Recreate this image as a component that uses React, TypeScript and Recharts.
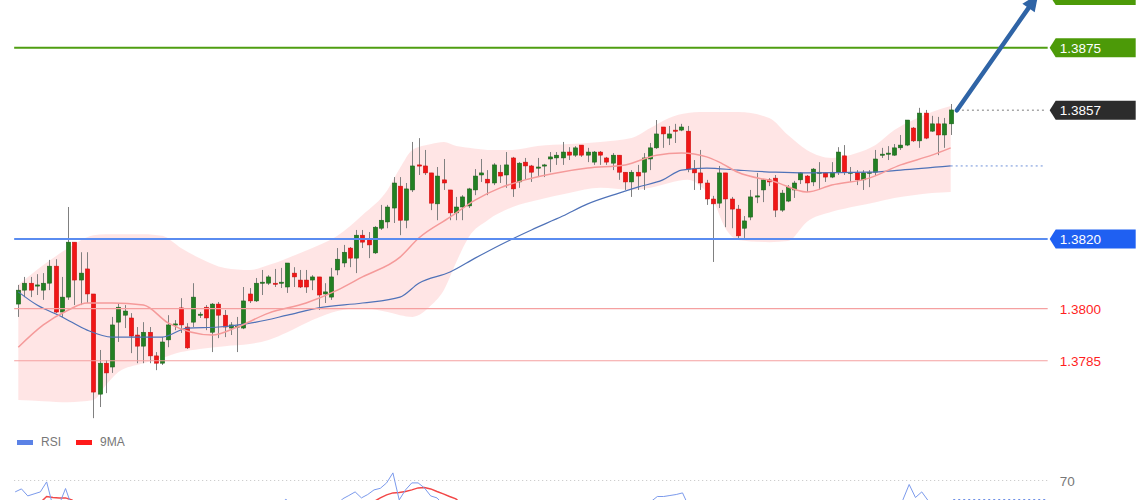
import React from 'react';
import { ComposedChart, Bar, Line, Area, XAxis, YAxis, ReferenceLine } from 'recharts';

const FONT = '"Liberation Sans", Arial, Helvetica, sans-serif';

// candles, oldest first
const opens = [
  1.38013, 1.38053, 1.38073, 1.38065, 1.38053, 1.38073, 1.38122, 1.37990, 1.38033, 1.38191,
  1.38082, 1.38114, 1.38042, 1.37754, 1.37843, 1.37832, 1.37961, 1.37981, 1.37973, 1.37924,
  1.37892, 1.37932, 1.37864, 1.37843, 1.37910, 1.37953, 1.38002, 1.37947, 1.37961, 1.37981,
  1.38004, 1.37932, 1.38013, 1.37981, 1.37944, 1.37947, 1.37944, 1.38042, 1.38022, 1.38073,
  1.38073, 1.38073, 1.38073, 1.38062, 1.38102, 1.38082, 1.38082, 1.38082, 1.38091, 1.38042,
  1.38033, 1.38111, 1.38131, 1.38174, 1.38145, 1.38211, 1.38200, 1.38160, 1.38231, 1.38249,
  1.38289, 1.38352, 1.38254, 1.38341, 1.38413, 1.38410, 1.38390, 1.38301, 1.38370, 1.38341,
  1.38275, 1.38292, 1.38295, 1.38341, 1.38384, 1.38372, 1.38361, 1.38392, 1.38384, 1.38433,
  1.38364, 1.38421, 1.38410, 1.38404, 1.38410, 1.38430, 1.38433, 1.38433, 1.38450, 1.38441,
  1.38470, 1.38441, 1.38421, 1.38450, 1.38433, 1.38418, 1.38441, 1.38392, 1.38364, 1.38392,
  1.38392, 1.38430, 1.38462, 1.38522, 1.38490, 1.38513, 1.38513, 1.38510, 1.38401, 1.38390,
  1.38361, 1.38315, 1.38303, 1.38390, 1.38315, 1.38286, 1.38231, 1.38263, 1.38321, 1.38341,
  1.38370, 1.38375, 1.38283, 1.38309, 1.38341, 1.38370, 1.38381, 1.38364, 1.38390, 1.38390,
  1.38378, 1.38392, 1.38439, 1.38390, 1.38390, 1.38370, 1.38390, 1.38392, 1.38441, 1.38444,
  1.38441, 1.38462, 1.38470, 1.38519, 1.38482, 1.38562, 1.38510, 1.38531, 1.38499, 1.38531,
];
const highs = [
  1.38068, 1.38091, 1.38091, 1.38099, 1.38102, 1.38140, 1.38142, 1.38091, 1.38292, 1.38191,
  1.38162, 1.38162, 1.38042, 1.37881, 1.37852, 1.37976, 1.38016, 1.38010, 1.37987, 1.37947,
  1.37961, 1.37947, 1.37875, 1.37918, 1.37981, 1.37967, 1.38030, 1.37958, 1.38073, 1.37990,
  1.38010, 1.38016, 1.38019, 1.37996, 1.37961, 1.37976, 1.38062, 1.38059, 1.38088, 1.38111,
  1.38096, 1.38114, 1.38117, 1.38131, 1.38119, 1.38111, 1.38111, 1.38096, 1.38091, 1.38073,
  1.38117, 1.38174, 1.38183, 1.38177, 1.38226, 1.38226, 1.38220, 1.38237, 1.38298, 1.38298,
  1.38378, 1.38378, 1.38361, 1.38479, 1.38490, 1.38456, 1.38390, 1.38407, 1.38430, 1.38341,
  1.38321, 1.38326, 1.38347, 1.38401, 1.38430, 1.38398, 1.38418, 1.38413, 1.38450, 1.38436,
  1.38421, 1.38433, 1.38413, 1.38433, 1.38416, 1.38450, 1.38450, 1.38479, 1.38464, 1.38467,
  1.38470, 1.38462, 1.38453, 1.38453, 1.38436, 1.38447, 1.38441, 1.38392, 1.38398, 1.38413,
  1.38447, 1.38476, 1.38542, 1.38522, 1.38525, 1.38531, 1.38531, 1.38525, 1.38427, 1.38456,
  1.38370, 1.38324, 1.38410, 1.38390, 1.38321, 1.38298, 1.38266, 1.38341, 1.38390, 1.38372,
  1.38375, 1.38384, 1.38341, 1.38355, 1.38367, 1.38392, 1.38384, 1.38404, 1.38421, 1.38392,
  1.38421, 1.38464, 1.38470, 1.38407, 1.38398, 1.38398, 1.38398, 1.38456, 1.38462, 1.38467,
  1.38473, 1.38499, 1.38542, 1.38522, 1.38577, 1.38571, 1.38554, 1.38551, 1.38548, 1.38588,
];
const lows = [
  1.37976, 1.38033, 1.38033, 1.38039, 1.38025, 1.38053, 1.37987, 1.37976, 1.38025, 1.38010,
  1.38010, 1.38016, 1.37685, 1.37717, 1.37757, 1.37815, 1.37904, 1.37944, 1.37872, 1.37843,
  1.37843, 1.37843, 1.37823, 1.37838, 1.37889, 1.37938, 1.37930, 1.37884, 1.37947, 1.37973,
  1.37938, 1.37875, 1.37915, 1.37918, 1.37924, 1.37875, 1.37941, 1.38016, 1.38019, 1.38039,
  1.38068, 1.38062, 1.38059, 1.38045, 1.38062, 1.38059, 1.38045, 1.38053, 1.37996, 1.38016,
  1.38025, 1.38096, 1.38119, 1.38119, 1.38102, 1.38174, 1.38145, 1.38157, 1.38226, 1.38231,
  1.38246, 1.38211, 1.38231, 1.38335, 1.38384, 1.38384, 1.38283, 1.38254, 1.38341, 1.38254,
  1.38254, 1.38254, 1.38289, 1.38326, 1.38364, 1.38326, 1.38355, 1.38361, 1.38347, 1.38321,
  1.38347, 1.38370, 1.38364, 1.38378, 1.38378, 1.38392, 1.38413, 1.38413, 1.38427, 1.38436,
  1.38436, 1.38421, 1.38413, 1.38413, 1.38413, 1.38398, 1.38370, 1.38341, 1.38321, 1.38341,
  1.38341, 1.38398, 1.38459, 1.38462, 1.38470, 1.38476, 1.38510, 1.38392, 1.38341, 1.38341,
  1.38298, 1.38134, 1.38289, 1.38234, 1.38231, 1.38203, 1.38203, 1.38254, 1.38303, 1.38306,
  1.38352, 1.38263, 1.38278, 1.38306, 1.38318, 1.38358, 1.38335, 1.38352, 1.38341, 1.38364,
  1.38375, 1.38384, 1.38384, 1.38364, 1.38355, 1.38341, 1.38349, 1.38381, 1.38433, 1.38427,
  1.38439, 1.38456, 1.38467, 1.38479, 1.38462, 1.38487, 1.38508, 1.38441, 1.38462, 1.38499,
];
const closes = [
  1.38053, 1.38073, 1.38053, 1.38068, 1.38073, 1.38122, 1.37990, 1.38033, 1.38191, 1.38082,
  1.38102, 1.38042, 1.37760, 1.37843, 1.37815, 1.37953, 1.38004, 1.37993, 1.37921, 1.37892,
  1.37932, 1.37864, 1.37843, 1.37904, 1.37953, 1.37956, 1.37953, 1.37887, 1.38033, 1.37984,
  1.37973, 1.38013, 1.37981, 1.37947, 1.37953, 1.37950, 1.38022, 1.38022, 1.38073, 1.38076,
  1.38091, 1.38070, 1.38076, 1.38131, 1.38091, 1.38062, 1.38062, 1.38091, 1.38039, 1.38048,
  1.38091, 1.38142, 1.38162, 1.38145, 1.38211, 1.38191, 1.38183, 1.38234, 1.38254, 1.38292,
  1.38361, 1.38254, 1.38344, 1.38410, 1.38410, 1.38390, 1.38303, 1.38381, 1.38361, 1.38275,
  1.38292, 1.38321, 1.38344, 1.38381, 1.38390, 1.38361, 1.38413, 1.38381, 1.38413, 1.38344,
  1.38418, 1.38410, 1.38392, 1.38407, 1.38413, 1.38436, 1.38441, 1.38450, 1.38441, 1.38462,
  1.38441, 1.38450, 1.38450, 1.38441, 1.38421, 1.38441, 1.38392, 1.38364, 1.38392, 1.38381,
  1.38433, 1.38462, 1.38502, 1.38502, 1.38502, 1.38510, 1.38522, 1.38401, 1.38390, 1.38361,
  1.38315, 1.38301, 1.38390, 1.38315, 1.38286, 1.38209, 1.38252, 1.38321, 1.38324, 1.38370,
  1.38364, 1.38283, 1.38332, 1.38349, 1.38361, 1.38390, 1.38361, 1.38401, 1.38392, 1.38378,
  1.38392, 1.38450, 1.38392, 1.38392, 1.38370, 1.38390, 1.38392, 1.38430, 1.38444, 1.38447,
  1.38462, 1.38470, 1.38542, 1.38482, 1.38562, 1.38490, 1.38531, 1.38499, 1.38531, 1.38571,
];

// bollinger band, read at these candle positions
const bbIdx = [0, 4, 8, 12, 14, 16, 20, 23, 26, 29, 33, 37, 40, 43, 47, 51, 55, 59, 61, 63, 66, 68, 70, 72,
  75, 79, 83, 88, 93, 98, 101, 104, 107, 109, 111, 113, 115, 120, 123, 126, 130, 134, 137, 140, 143, 146, 149];
const bbUpper = [1.38068, 1.38125, 1.38174, 1.38211, 1.38214, 1.38214, 1.38214, 1.38209, 1.38174, 1.38145,
  1.38117, 1.38111, 1.38125, 1.38145, 1.38174, 1.38209, 1.38269, 1.38341, 1.38404, 1.38456, 1.38473, 1.38479,
  1.38467, 1.38462, 1.38456, 1.38456, 1.38467, 1.38473, 1.38479, 1.38490, 1.38519, 1.38548, 1.38562, 1.38565,
  1.38565, 1.38565, 1.38565, 1.38548, 1.38499, 1.38456, 1.38433, 1.38447, 1.38470, 1.38513, 1.38542, 1.38565, 1.38582];
const bbLower = [1.37737, 1.37734, 1.37731, 1.37737, 1.37780, 1.37818, 1.37843, 1.37858, 1.37875, 1.37884,
  1.37892, 1.37898, 1.37910, 1.37932, 1.37967, 1.37993, 1.38002, 1.37990, 1.37981, 1.37976, 1.38010, 1.38053,
  1.38134, 1.38206, 1.38254, 1.38292, 1.38312, 1.38332, 1.38347, 1.38341, 1.38347, 1.38361, 1.38370, 1.38352,
  1.38312, 1.38231, 1.38197, 1.38191, 1.38194, 1.38249, 1.38278, 1.38295, 1.38306, 1.38318, 1.38326, 1.38332, 1.38335];

// red (short) moving average
const midIdx = [0, 4, 8, 11, 15, 20, 24, 31, 35, 40, 46, 51, 55, 61, 64, 69, 73, 77, 81, 86, 91, 97, 102, 106,
  110, 112, 115, 121, 126, 130, 136, 141, 146, 149];
const midVal = [1.37889, 1.37953, 1.37996, 1.38016, 1.38016, 1.38010, 1.37958, 1.37924, 1.37947, 1.37987,
  1.38016, 1.38053, 1.38091, 1.38148, 1.38203, 1.38263, 1.38312, 1.38347, 1.38370, 1.38390, 1.38404, 1.38413,
  1.38441, 1.38447, 1.38436, 1.38421, 1.38392, 1.38364, 1.38335, 1.38355, 1.38375, 1.38413, 1.38441, 1.38462];

// blue (long) moving average
const maIdx = [0, 3, 7, 11, 15, 23, 27, 32, 38, 43, 48, 55, 61, 64, 69, 73, 77, 82, 87, 91, 96, 99, 103, 106,
  110, 115, 121, 126, 136, 141, 149];
const maVal = [1.38048, 1.38010, 1.37976, 1.37938, 1.37918, 1.37918, 1.37944, 1.37947, 1.37961, 1.37981,
  1.38002, 1.38016, 1.38033, 1.38073, 1.38105, 1.38145, 1.38183, 1.38226, 1.38266, 1.38301, 1.38332, 1.38349,
  1.38370, 1.38398, 1.38404, 1.38398, 1.38392, 1.38390, 1.38392, 1.38398, 1.38410];

// RSI panel, only the part above the bottom edge is visible
const rsiIdx = [0, 1, 2, 3, 4, 5, 6, 7, 8, 9, 42, 43, 44, 51, 52, 53, 54, 55, 56, 57, 58, 59, 60, 61, 62, 63, 64,
  65, 66, 67, 68, 100, 101, 102, 103, 104, 105, 106, 107, 140, 141, 142, 143, 144, 145, 146];
const rsiVal = [64.3, 65.8, 62.3, 63.3, 64.3, 69.3, 57, 58, 66, 57, 58, 60.6, 58, 57, 60.8, 62.5, 64.3, 61.3,
  63, 65.3, 66.1, 68.8, 73.8, 60.3, 65.3, 68.8, 68.8, 66.3, 62.3, 61.3, 58, 57, 59.5, 62, 62, 62.5, 63, 63.8, 57,
  57, 60.3, 68, 61.5, 64.3, 60, 56];
const rsiMaIdx = [3, 4, 5, 6, 7, 8, 9, 10, 56, 57, 58, 59, 60, 61, 62, 63, 64, 65, 66, 67, 68, 69, 70, 71];
const rsiMaVal = [58, 59, 62, 61.5, 61.3, 61.3, 60.3, 58, 58, 59.5, 61.3, 62.8, 63.8, 64, 64.5, 65.3, 66.3,
  66.5, 65.8, 64.5, 63.3, 62, 60.8, 58];

const levels = { top: 1.389, resistance: 1.3875, last: 1.3857, support: 1.382, s1: 1.38, s2: 1.3785 };
const maLast = 1.3841;
const rsiLast = 60.5;
const arrowFrom = { i: 150, p: 1.3857 };
const arrowTo = { i: 163, p: 1.38904 };

const SLOTS = 165; // candles + empty room on the right

const rows: any[] = Array.from({ length: SLOTS }, (_, i) => ({
  i,
  o: i < opens.length ? opens[i] : null,
  h: i < highs.length ? highs[i] : null,
  l: i < lows.length ? lows[i] : null,
  c: i < closes.length ? closes[i] : null,
  up: null, lo: null, mid: null, ma: null,
}));
bbIdx.forEach((k, j) => { rows[k].up = bbUpper[j]; rows[k].lo = bbLower[j]; });
midIdx.forEach((k, j) => { rows[k].mid = midVal[j]; });
maIdx.forEach((k, j) => { rows[k].ma = maVal[j]; });

const rsiRows: any[] = Array.from({ length: SLOTS }, (_, i) => ({ i, rsi: null, rsiMa: null }));
rsiIdx.forEach((k, j) => { rsiRows[k].rsi = rsiVal[j]; });
rsiMaIdx.forEach((k, j) => { rsiRows[k].rsiMa = rsiMaVal[j]; });

const MARGIN = { top: 0, right: 92.33, bottom: 0, left: 15.17 };

const Candle = (props: any) => {
  const { x, y, width, height, payload } = props;
  if (!payload || payload.h == null) return <g />;
  const { o, h, l, c } = payload;
  const yTop = Math.min(y, y + height);
  const yBot = Math.max(y, y + height);
  const span = h - l || 1e-9;
  const toY = (v: number) => yTop + ((h - v) / span) * (yBot - yTop);
  const cx = Math.round(x + width / 2) + 0.5;
  const up = c >= o;
  const t = toY(Math.max(o, c));
  const b = toY(Math.min(o, c));
  return (
    <g>
      <line x1={cx} x2={cx} y1={yTop} y2={yBot} stroke="#808080" strokeWidth={1} />
      <rect x={cx - 2.2} y={t} width={4.4} height={Math.max(b - t, 1.2)}
        fill={up ? '#238023' : '#f01616'} stroke={up ? '#1b5e1b' : '#c81010'} strokeWidth={0.5} />
    </g>
  );
};

const tagPath = (x: number, y: number) =>
  `M${x + 2},${y} L${x + 8},${y - 9.5} L${x + 88},${y - 9.5} L${x + 88},${y + 9.5} L${x + 8},${y + 9.5} Z`;

const tagLine = (color: string, w: number, label: string, tagColor: string) => (p: any) => (
  <g>
    <line x1={p.x1 - 1} y1={p.y1} x2={p.x2} y2={p.y2} stroke={color} strokeWidth={w} />
    <path d={tagPath(p.x2, p.y1)} fill={tagColor} />
    <text x={p.x2 + 12} y={p.y1 + 5} fill="#fff" fontSize={13.5} fontFamily={FONT}>{label}</text>
  </g>
);

// tag whose text sits above the top edge of the picture
const tagEdge = (color: string) => (p: any) => <path d={tagPath(p.x2, p.y1)} fill={color} />;

const tagOnly = (label: string, color: string) => (p: any) => (
  <g>
    <path d={tagPath(p.x2, p.y1)} fill={color} />
    <text x={p.x2 + 12} y={p.y1 + 5} fill="#fff" fontSize={13.5} fontFamily={FONT}>{label}</text>
  </g>
);

const textLine = (color: string, label: string, textColor: string, dash?: string) => (p: any) => (
  <g>
    <line x1={p.x1 - 1} y1={p.y1} x2={p.x2} y2={p.y2} stroke={color} strokeWidth={1.2} strokeDasharray={dash} />
    <text x={p.x2 + 12} y={p.y1 + 5} fill={textColor} fontSize={13.5} fontFamily={FONT}>{label}</text>
  </g>
);

const dotted = (color: string, w: number) => (p: any) => (
  <line x1={p.x1} y1={p.y1} x2={p.x2} y2={p.y2} stroke={color} strokeWidth={w} strokeDasharray="2 3" />
);

const Arrow = (p: any) => {
  const { x1, y1, x2, y2 } = p;
  const dx = x2 - x1;
  const dy = y2 - y1;
  const len = Math.hypot(dx, dy) || 1;
  const ux = dx / len;
  const uy = dy / len;
  const head = 17;
  const half = 7.5;
  const bx = x2 - ux * head;
  const by = y2 - uy * head;
  const nx = -uy;
  const ny = ux;
  return (
    <g>
      <line x1={x1} y1={y1} x2={bx + ux * 2} y2={by + uy * 2} stroke="#2f64a6" strokeWidth={4.5} strokeLinecap="round" />
      <polygon points={`${x2},${y2} ${bx + nx * half},${by + ny * half} ${bx - nx * half},${by - ny * half}`} fill="#2f64a6" />
    </g>
  );
};

const App: React.FC = () => {
  return (
    <div style={{ position: 'absolute', left: 0, top: 0, width: 1140, height: 500, background: '#fff', overflow: 'hidden', fontFamily: FONT }}>
      <div style={{ position: 'absolute', left: 0, top: 0 }}>
        <ComposedChart width={1140} height={430} data={rows} margin={MARGIN}>
          <XAxis dataKey="i" hide />
          <YAxis hide domain={[1.37651, 1.38887]} allowDataOverflow />
          <Area dataKey={(d: any) => (d.up == null ? null : [d.lo, d.up])} type="monotone" connectNulls
            stroke="none" fill="#ffb0b0" fillOpacity={0.33} isAnimationActive={false} activeDot={false} />
          <Line dataKey="ma" type="monotone" connectNulls stroke="#4f72b8" strokeWidth={1.2} dot={false}
            activeDot={false} isAnimationActive={false} />
          <Line dataKey="mid" type="monotone" connectNulls stroke="#f59a9a" strokeWidth={1.5} dot={false}
            activeDot={false} isAnimationActive={false} />
          <Bar dataKey={(d: any) => (d.h == null ? null : [d.l, d.h])} barSize={4} shape={Candle}
            isAnimationActive={false} />
          <ReferenceLine y={levels.s2} shape={textLine('#f5a0a0', levels.s2.toFixed(4), '#ff1f1f')} />
          <ReferenceLine y={levels.s1} shape={textLine('#f5a0a0', levels.s1.toFixed(4), '#ff1f1f')} />
          <ReferenceLine y={levels.support} shape={tagLine('#5a8cf0', 2, levels.support.toFixed(4), '#1f60f2')} />
          <ReferenceLine y={levels.resistance} shape={tagLine('#4f9e12', 2, levels.resistance.toFixed(4), '#4c9a08')} />
          <ReferenceLine y={levels.top} ifOverflow="visible" shape={tagEdge('#4c9a08')} />
          <ReferenceLine y={levels.last} shape={tagOnly(levels.last.toFixed(4), '#2c2c2c')} />
          <ReferenceLine segment={[{ x: 150, y: levels.last }, { x: 164, y: levels.last }]} shape={dotted('#a8a8a8', 1.5)} />
          <ReferenceLine segment={[{ x: 149, y: maLast }, { x: 164, y: maLast }]} shape={dotted('#6d8fd8', 1)} />
          <ReferenceLine segment={[{ x: arrowFrom.i, y: arrowFrom.p }, { x: arrowTo.i, y: arrowTo.p }]}
            ifOverflow="visible" shape={Arrow} />
        </ComposedChart>
      </div>

      <div style={{ position: 'absolute', left: 17, top: 440, width: 16, height: 5, background: '#5b82e6' }} />
      <div style={{ position: 'absolute', left: 41, top: 435, fontSize: 12, lineHeight: '14px', color: '#777' }}>RSI</div>
      <div style={{ position: 'absolute', left: 76, top: 440, width: 16, height: 5, background: '#ff1a1a' }} />
      <div style={{ position: 'absolute', left: 100, top: 435, fontSize: 12, lineHeight: '14px', color: '#777' }}>9MA</div>

      <div style={{ position: 'absolute', left: 0, top: 430 }}>
        <ComposedChart width={1140} height={70} data={rsiRows} margin={MARGIN}>
          <XAxis dataKey="i" hide />
          <YAxis hide domain={[60.25, 95.25]} allowDataOverflow />
          <ReferenceLine y={70} shape={textLine('#c4c4c4', '70', '#777', '1 3')} />
          <Line dataKey="rsiMa" stroke="#f24848" strokeWidth={1.5} dot={false} activeDot={false} isAnimationActive={false} />
          <Line dataKey="rsi" stroke="#7b9aec" strokeWidth={1} dot={false} activeDot={false} isAnimationActive={false} />
          <ReferenceLine segment={[{ x: 149, y: rsiLast }, { x: 164, y: rsiLast }]} shape={dotted('#6d8fe6', 1)} />
        </ComposedChart>
      </div>
    </div>
  );
};

export default App;
